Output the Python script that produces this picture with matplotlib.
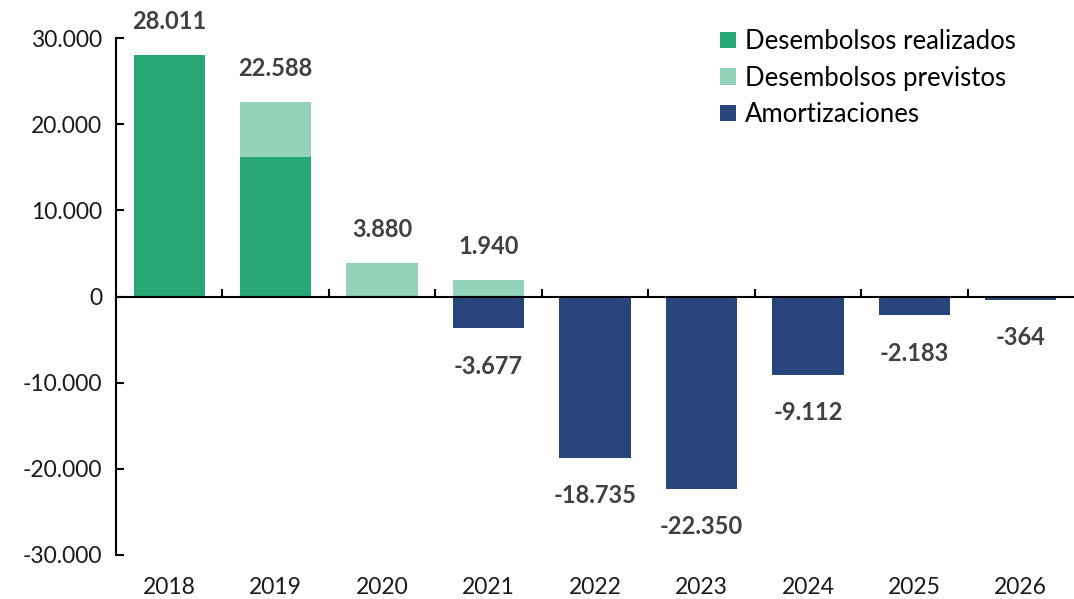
import matplotlib.pyplot as plt
import numpy as np

plt.rcParams['font.family'] = ['Lato', 'DejaVu Sans']

# datos (millones)
years = ["2018", "2019", "2020", "2021", "2022", "2023", "2024", "2025", "2026"]
realizados = [28011, 16200, 0, 0, 0, 0, 0, 0, 0]
previstos = [0, 6388, 3880, 1940, 0, 0, 0, 0, 0]
amortizaciones = [0, 0, 0, -3677, -18735, -22350, -9112, -2183, -364]
etiquetas_pos = [28011, 22588, 3880, 1940]
etiquetas_neg = [-3677, -18735, -22350, -9112, -2183, -364]

c_real = "#27A776"
c_prev = "#93D3B9"
c_amort = "#27457A"
c_txt = "#404040"


def fmt(v):
    return f"{v:,.0f}".replace(",", ".")


fig = plt.figure(figsize=(10.74, 5.99), dpi=100)
ax = fig.add_axes([0.108, 0.0735, 0.892, 0.863])

x = np.arange(len(years))
w = 0.67
ax.bar(x, realizados, w, color=c_real, label="Desembolsos realizados")
ax.bar(x, previstos, w, bottom=realizados, color=c_prev, label="Desembolsos previstos")
ax.bar(x, amortizaciones, w, color=c_amort, label="Amortizaciones")

# etiquetas
for i, v in enumerate(etiquetas_pos):
    ax.annotate(fmt(v), (x[i], v), xytext=(0, 16), textcoords="offset points",
                ha="center", va="bottom", fontsize=17, fontweight="bold", color=c_txt)
for i, v in zip(range(3, 9), etiquetas_neg):
    ax.annotate(fmt(v), (x[i], v), xytext=(0, -19), textcoords="offset points",
                ha="center", va="top", fontsize=17, fontweight="bold", color=c_txt)

ax.set_xlim(-0.5, len(years) - 0.5)
ax.set_ylim(-30000, 30000)
ax.set_yticks(np.arange(-30000, 30001, 10000))
ax.set_yticklabels([fmt(v) for v in np.arange(-30000, 30001, 10000)], fontsize=16.5, color="#1a1a1a")
ax.tick_params(axis="y", direction="in", length=6, width=1.5, pad=10)

# eje x en cero
ax.spines["top"].set_visible(False)
ax.spines["right"].set_visible(False)
ax.spines["left"].set_linewidth(1.5)
ax.spines["bottom"].set_position(("data", 0))
ax.spines["bottom"].set_linewidth(1.5)
ax.set_xticks(np.arange(0.5, len(years) - 1, 1))
ax.set_xticklabels([])
ax.tick_params(axis="x", direction="in", length=6, width=1.5)

for i, y in enumerate(years):
    ax.text(x[i], -0.063, y, transform=ax.get_xaxis_transform(), ha="center", va="center",
            fontsize=16.5, color="#1a1a1a")

leg = ax.legend(loc="upper right", bbox_to_anchor=(0.963, 1.062), frameon=False, fontsize=18.5,
                handlelength=0.6, handleheight=0.6, handletextpad=0.35, labelspacing=0.45)

plt.savefig("out.png", dpi=100)
